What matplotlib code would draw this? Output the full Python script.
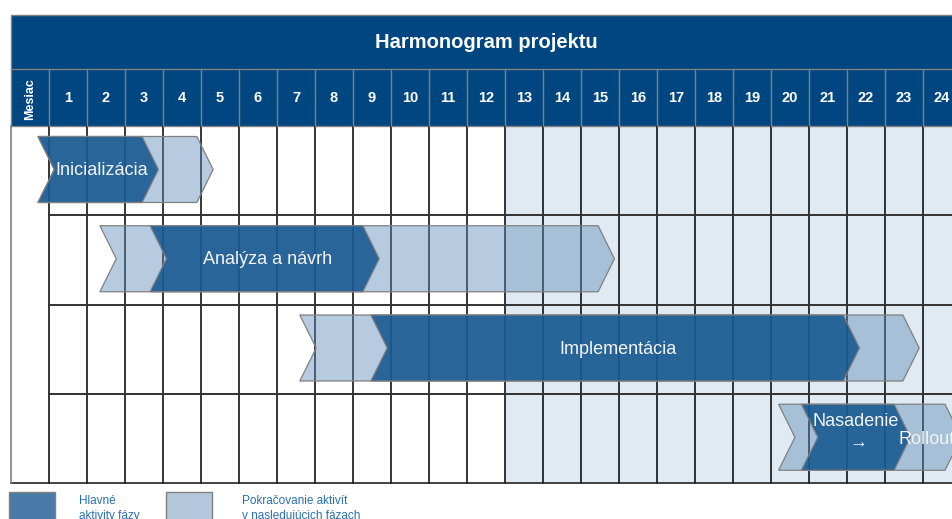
import matplotlib
matplotlib.use("Agg")
import matplotlib.pyplot as plt
from matplotlib.patches import Polygon, Rectangle

plt.rcParams['font.family'] = ['Liberation Sans', 'DejaVu Sans']

# data
title = "Harmonogram projektu"
months = list(range(1, 25))
shade_from = 13
phases = ["Inicializácia", "Analýza a návrh", "Implementácia", "Nasadenie"]
main_start = [0.21, 3.16, 8.97, 20.30]
main_end = [2.95, 8.76, 21.40, 22.74]
cont_start = [0.21, 1.84, 7.10, 19.70]
cont_end = [4.39, 14.95, 22.97, 24.08]
legend_labels = ["Hlavné\naktivity fázy", "Pokračovanie aktivít\nv nasledujúcich fázach"]

# colours
navy = '#004680'
dark = '#165790'
light = '#5f8db8'
shade = '#e0eaf2'
edge = '#808080'

W, H = 952, 519
col_w = 38.0
x0_px = 49.0
def px(x):
    return 0.5 + (x - x0_px) / col_w

fig = plt.figure(figsize=(W / 100, H / 100), dpi=100)
ax = fig.add_axes([0, 0, 1, 1])
ax.set_xlim(px(0), px(W))
ax.set_ylim(H, 0)
ax.axis('off')

left = px(11)
right = px(W + 5)
top_t, top_m, top_b, bot = 15, 69, 126, 483
row_h = (bot - top_b) / 4.0

# header
ax.add_patch(Rectangle((left, top_t), right - left, top_b - top_t, fc=navy, ec=edge, lw=1, zorder=1))
ax.plot([left, right], [top_m, top_m], color=edge, lw=1, zorder=2)
ax.text(px(486), 43, title, color='white', fontsize=14.5, fontweight='bold',
        ha='center', va='center', zorder=3)
for m in months:
    ax.plot([m - 0.5, m - 0.5], [top_m, top_b], color=edge, lw=1, zorder=2)
    ax.text(m, 98, str(m), color='white', fontsize=10.5, fontweight='bold',
            ha='center', va='center', zorder=3)
ax.text(0, 99, "Mesiac", color='white', fontsize=9, fontweight='bold', rotation=90,
        ha='center', va='center', zorder=3)

# body
ax.add_patch(Rectangle((shade_from - 0.5, top_b), right - shade_from + 0.5, bot - top_b,
                       fc=shade, ec='none', zorder=0))
for m in months:
    ax.plot([m - 0.5, m - 0.5], [top_b, bot], color='black', lw=1.1, zorder=1)
for r in range(1, 4):
    ax.plot([0.5, right], [top_b + r * row_h] * 2, color='#333333', lw=1.4, zorder=1)
ax.plot([left, right], [bot, bot], color='#222222', lw=1.2, zorder=1)
ax.plot([left, left], [top_b, bot], color=edge, lw=1.2, zorder=1)

# chevrons
d = 0.43
def chevron(s, e, yt, fc, alpha, z):
    yb = yt + 66
    ym = yt + 33
    pts = [(s, yt), (e, yt), (e + d, ym), (e, yb), (s, yb), (s + d, ym)]
    ax.add_patch(Polygon(pts, closed=True, fc=fc, alpha=alpha, ec='none', zorder=z))
    ax.add_patch(Polygon(pts, closed=True, fc='none', ec=edge, lw=0.9, zorder=z + 0.5))

for i in range(4):
    yt = top_b + i * row_h + 10.5
    chevron(cont_start[i], cont_end[i], yt, light, 0.45, 2)
    chevron(main_start[i], main_end[i], yt, dark, 0.88, 3)
    if i < 3:
        cx = (main_start[i] + main_end[i]) / 2 + 0.3
        ax.text(cx, yt + 34, phases[i], color='#f4f4f4', fontsize=13,
                ha='center', va='center', zorder=5)

yt4 = top_b + 3 * row_h + 10.5
ax.text(px(856), yt4 + 17, phases[3], color='#f4f4f4', fontsize=13, ha='center', va='center', zorder=5)
ax.text(px(858), yt4 + 39, "→", color='#f4f4f4', fontsize=13, ha='center', va='center', zorder=5)
ax.text(px(898), yt4 + 35, "Rollout", color='#f4f4f4', fontsize=13, ha='left', va='center', zorder=5)

# legend
ax.add_patch(Rectangle((px(9), 492), px(55) - px(9), 40, fc='#4a7aa8', ec=edge, lw=1, zorder=2))
ax.add_patch(Rectangle((px(166), 492), px(212) - px(166), 40, fc='#b4c8dc', ec=edge, lw=1, zorder=2))
ax.text(px(79), 494.5, legend_labels[0], color='#2a6fb5', fontsize=8.5, ha='left', va='top',
        linespacing=1.4, zorder=3)
ax.text(px(242), 494.5, legend_labels[1], color='#2a6fb5', fontsize=8.5, ha='left', va='top',
        linespacing=1.4, zorder=3)

fig.savefig("out.png", dpi=100)
